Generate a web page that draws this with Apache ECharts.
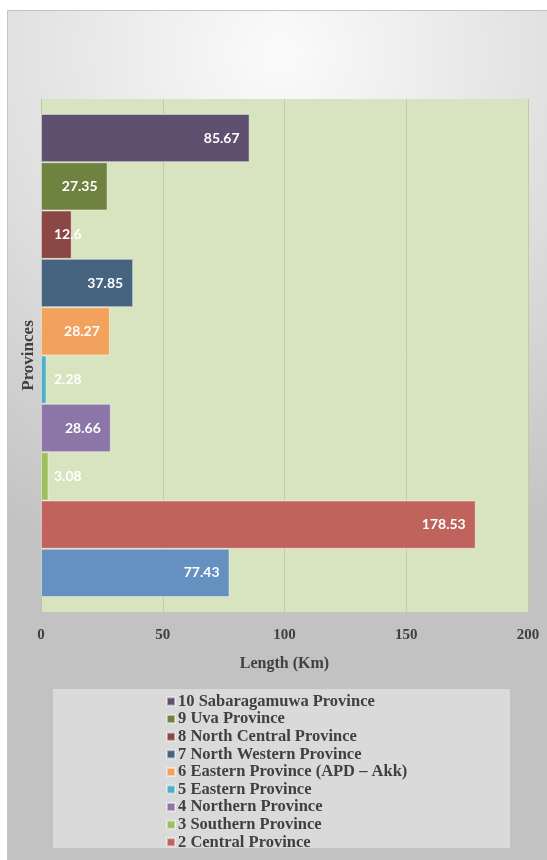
<!DOCTYPE html>
<html>
<head>
<meta charset="utf-8">
<script src="https://cdn.jsdelivr.net/npm/echarts@6/dist/echarts.min.js"></script>
<style>
  html, body { margin: 0; padding: 0; background: #ffffff; }
  #chart { width: 547px; height: 860px; }
</style>
</head>
<body>
<div id="chart"></div>
<script>
// Railway line length per province (km), listed bottom-to-top as drawn
const provinces = [
  '1 Western Province',
  '2 Central Province',
  '3 Southern Province',
  '4 Northern Province',
  '5 Eastern Province',
  '6 Eastern Province (APD – Akk)',
  '7 North Western Province',
  '8 North Central Province',
  '9 Uva Province',
  '10 Sabaragamuwa Province'
];
const lengthsKm = [77.43, 178.53, 3.08, 28.66, 2.28, 28.27, 37.85, 12.6, 27.35, 85.67];
const barColors = ['#6591c0', '#c0635d', '#9fbe5e', '#8b76a7', '#4fafc8', '#f2a25c', '#46637f', '#8b4743', '#6f8341', '#605070'];
const xTicks = [0, 50, 100, 150, 200];
const xAxisTitle = 'Length (Km)';
const yAxisTitle = 'Provinces';
// legend lists provinces from the top down
const legendOrder = provinces.slice(1).reverse();

const serif = '"Liberation Serif", "Times New Roman", serif';
const labelFont = 'Lato, "Open Sans", sans-serif';

const chart = echarts.init(document.getElementById('chart'), null, { renderer: 'canvas' });

// ECharts stacks bars of one category from the top down, so feed series top-first
const series = provinces.map((name, i) => {
  const v = lengthsKm[i];
  const small = v < 20;
  return {
    name: name,
    type: 'bar',
    data: [v],
    barGap: '0%',
    barCategoryGap: '5.8%',
    itemStyle: {
      color: barColors[i],
      borderColor: 'rgba(255,255,255,0.45)',
      borderWidth: 1
    },
    label: {
      show: true,
      position: small ? 'insideLeft' : 'insideRight',
      distance: small ? 13 : 10,
      color: '#ffffff',
      fontFamily: labelFont,
      fontWeight: 'bold',
      fontSize: 14,
      formatter: () => String(v)
    }
  };
}).reverse();

chart.setOption({
  animation: false,
  graphic: [
    {
      type: 'rect',
      z: -10,
      shape: { x: 7.5, y: 10.5, width: 545, height: 855 },
      style: {
        fill: {
          type: 'radial', x: 0.5, y: 0.05, r: 1.0,
          colorStops: [
            { offset: 0, color: '#fbfbfb' },
            { offset: 0.55, color: '#dedede' },
            { offset: 1, color: '#c2c2c2' }
          ]
        },
        stroke: '#c4c4c4',
        lineWidth: 1
      }
    },
    {
      type: 'rect',
      z: -5,
      shape: { x: 53, y: 689, width: 457, height: 159 },
      style: { fill: '#dadada' }
    }
  ],
  grid: {
    left: 41, right: 19, top: 99, bottom: 248,
    show: true,
    backgroundColor: '#d8e4bf',
    borderWidth: 0
  },
  xAxis: {
    type: 'value',
    min: xTicks[0],
    max: xTicks[xTicks.length - 1],
    interval: xTicks[1] - xTicks[0],
    name: xAxisTitle,
    nameLocation: 'middle',
    nameGap: 44,
    nameTextStyle: { fontFamily: serif, fontWeight: 'bold', fontSize: 16, color: '#404040' },
    axisLine: { show: false },
    axisTick: { show: false },
    axisLabel: { fontFamily: serif, fontWeight: 'bold', fontSize: 15, color: '#404040', margin: 16 },
    splitLine: { show: true, lineStyle: { color: '#bfcca6', width: 1 } }
  },
  yAxis: {
    type: 'category',
    data: [''],
    name: yAxisTitle,
    nameLocation: 'middle',
    nameGap: 4,
    nameRotate: 90,
    nameTextStyle: { fontFamily: serif, fontWeight: 'bold', fontSize: 17, color: '#404040' },
    axisLine: { show: true, lineStyle: { color: '#b9c7a0', width: 1 } },
    axisTick: { show: false },
    axisLabel: { show: false },
    splitLine: { show: false }
  },
  legend: {
    data: legendOrder,
    orient: 'vertical',
    left: 161,
    top: 688,
    itemWidth: 8,
    itemHeight: 8,
    itemGap: 0.6,
    icon: 'rect',
    textStyle: {
      fontFamily: serif, fontWeight: 'bold', fontSize: 16.5, lineHeight: 17, color: '#404040',
      padding: [0, 0, 0, -2]
    },
    selectedMode: false
  },
  series: series
});
</script>
</body>
</html>
